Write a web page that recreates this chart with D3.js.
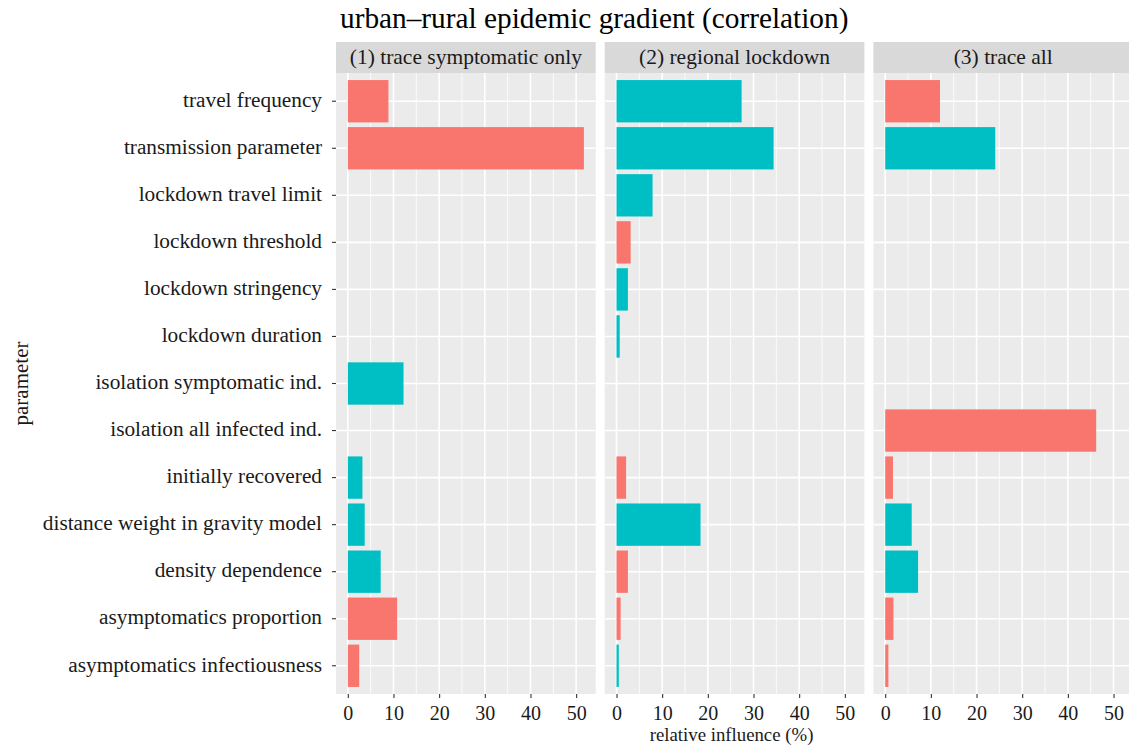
<!DOCTYPE html>
<html>
<head>
<meta charset="utf-8">
<script src="https://cdn.jsdelivr.net/npm/d3@7"></script>
<style>
  html, body { margin: 0; padding: 0; background: #ffffff; }
  svg { display: block; }
  text { font-family: "Liberation Serif", "Times New Roman", serif; fill: #1a1a1a; }
</style>
</head>
<body>
<svg id="chart" width="1129" height="747"></svg>
<script>
// ---------------- data ----------------
const title = "urban\u2013rural epidemic gradient (correlation)";
const facets = ["(1) trace symptomatic only", "(2) regional lockdown", "(3) trace all"];
const categories = [
  "travel frequency",
  "transmission parameter",
  "lockdown travel limit",
  "lockdown threshold",
  "lockdown stringency",
  "lockdown duration",
  "isolation symptomatic ind.",
  "isolation all infected ind.",
  "initially recovered",
  "distance weight in gravity model",
  "density dependence",
  "asymptomatics proportion",
  "asymptomatics infectiousness"
];
// relative influence (%) per facet, null = parameter not in the model
const influence1 = [8.9, 51.7, null, null, null, null, 12.2, null, 3.2, 3.7, 7.2, 10.8, 2.5];
const influence2 = [27.4, 34.4, 7.9, 3.1, 2.5, 0.7, null, null, 2.1, 18.4, 2.5, 0.9, 0.5];
const influence3 = [12.0, 24.1, null, null, null, null, null, 46.2, 1.7, 5.8, 7.2, 1.8, 0.7];
// direction of correlation
const direction1 = ["neg", "neg", null, null, null, null, "pos", null, "pos", "pos", "pos", "neg", "neg"];
const direction2 = ["pos", "pos", "pos", "neg", "pos", "pos", null, null, "neg", "pos", "neg", "neg", "pos"];
const direction3 = ["neg", "pos", null, null, null, null, null, "neg", "neg", "pos", "pos", "neg", "neg"];
const xTicks = [0, 10, 20, 30, 40, 50];
const xMinor = [5, 15, 25, 35, 45];
const xTitle = "relative influence (%)";
const yTitle = "parameter";

// ---------------- layout ----------------
const W = 1129, H = 747;
const panelTop = 73, panelBottom = 694;
const stripTop = 42;
const panelsLeft = 336, panelW = 259.7, panelGap = 9;
const colors = { neg: "#F8766D", pos: "#00BFC4" };

const svg = d3.select("#chart");

const values = [influence1, influence2, influence3];
const dirs = [direction1, direction2, direction3];
const allVals = values.flat().filter(v => v != null);
const vmax = d3.max(allVals);

const fx = d3.scaleBand()
  .domain(facets)
  .range([panelsLeft, panelsLeft + 3 * panelW + 2 * panelGap])
  .paddingInner(panelGap / (panelW + panelGap))
  .paddingOuter(0);

const x = d3.scaleLinear()
  .domain([-0.05 * vmax, 1.05 * vmax])
  .range([0, fx.bandwidth()]);

const y = d3.scaleBand()
  .domain(categories)
  .range([panelTop, panelBottom])
  .paddingInner(0.1)
  .paddingOuter(0.15);

// title
svg.append("text")
  .attr("x", 340)
  .attr("y", 28)
  .attr("font-size", 29.3)
  .style("fill", "#000")
  .text(title);

facets.forEach((f, i) => {
  const g = svg.append("g").attr("transform", `translate(${fx(f)},0)`);
  // strip
  g.append("rect")
    .attr("x", 0).attr("y", stripTop)
    .attr("width", fx.bandwidth()).attr("height", panelTop - stripTop)
    .attr("fill", "#D9D9D9");
  g.append("text")
    .attr("x", fx.bandwidth() / 2)
    .attr("y", 64)
    .attr("text-anchor", "middle")
    .attr("font-size", 21.5)
    .text(f);
  // panel background
  g.append("rect")
    .attr("x", 0).attr("y", panelTop)
    .attr("width", fx.bandwidth()).attr("height", panelBottom - panelTop)
    .attr("fill", "#EBEBEB");
  // minor grid
  g.selectAll(".minor").data(xMinor).enter().append("line")
    .attr("x1", d => x(d)).attr("x2", d => x(d))
    .attr("y1", panelTop).attr("y2", panelBottom)
    .attr("stroke", "#fff").attr("stroke-width", 0.8);
  // major grid
  g.selectAll(".major").data(xTicks).enter().append("line")
    .attr("x1", d => x(d)).attr("x2", d => x(d))
    .attr("y1", panelTop).attr("y2", panelBottom)
    .attr("stroke", "#fff").attr("stroke-width", 1.6);
  g.selectAll(".hmajor").data(categories).enter().append("line")
    .attr("x1", 0).attr("x2", fx.bandwidth())
    .attr("y1", d => y(d) + y.bandwidth() / 2).attr("y2", d => y(d) + y.bandwidth() / 2)
    .attr("stroke", "#fff").attr("stroke-width", 1.6);
  // bars
  const rows = categories.map((c, j) => ({ c, v: values[i][j], d: dirs[i][j] })).filter(r => r.v != null);
  g.selectAll(".bar").data(rows).enter().append("rect")
    .attr("x", x(0))
    .attr("y", r => y(r.c))
    .attr("width", r => x(r.v) - x(0))
    .attr("height", y.bandwidth())
    .attr("fill", r => colors[r.d]);
  // x axis
  const ax = g.append("g").attr("transform", `translate(0,${panelBottom})`)
    .call(d3.axisBottom(x).tickValues(xTicks).tickSize(4).tickPadding(4).tickFormat(d3.format("d")));
  ax.select(".domain").remove();
  ax.selectAll(".tick line").attr("stroke", "#333").attr("stroke-width", 1.1);
  ax.selectAll(".tick text").attr("font-size", 20).attr("font-family", "Liberation Serif").attr("fill", "#1a1a1a").attr("dy", "0.9em");
});

// y axis
const ay = svg.append("g").attr("transform", `translate(${panelsLeft},0)`)
  .call(d3.axisLeft(y).tickSize(4).tickPadding(10));
ay.select(".domain").remove();
ay.selectAll(".tick line").attr("stroke", "#333").attr("stroke-width", 1.1);
ay.selectAll(".tick text").attr("font-size", 21.3).attr("font-family", "Liberation Serif").attr("fill", "#1a1a1a").attr("dy", "0.27em");

// axis titles
svg.append("text")
  .attr("x", (fx.range()[0] + fx.range()[1]) / 2 - 3)
  .attr("y", 741)
  .attr("text-anchor", "middle")
  .attr("font-size", 18.8)
  .text(xTitle);

svg.append("text")
  .attr("transform", `translate(28,${(panelTop + panelBottom) / 2}) rotate(-90)`)
  .attr("text-anchor", "middle")
  .attr("font-size", 21)
  .text(yTitle);
</script>
</body>
</html>
